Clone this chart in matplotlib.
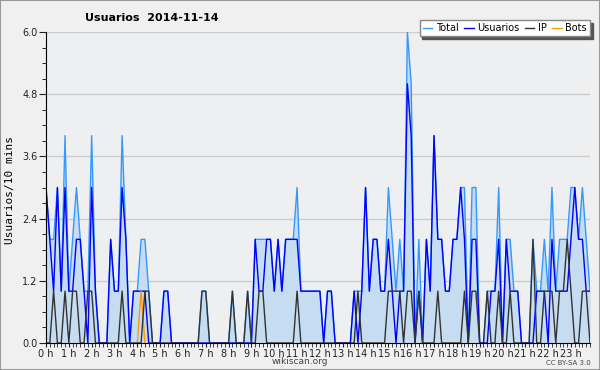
import matplotlib.pyplot as plt
import numpy as np
from matplotlib.patches import Rectangle
from matplotlib.ticker import MultipleLocator

# valores cada 10 minutos (144 puntos)
usuarios = [3, 2, 1, 3, 1, 3, 1, 1, 2, 2, 1, 0,
            3, 1, 0, 0, 0, 2, 1, 1, 3, 2, 0, 1,
            1, 1, 1, 0, 0, 0, 0, 1, 1, 0, 0, 0,
            0, 0, 0, 0, 0, 0, 0, 0, 0, 0, 0, 0,
            0, 0, 0, 0, 0, 0, 0, 2, 1, 1, 2, 2,
            1, 2, 1, 2, 2, 2, 2, 1, 1, 1, 1, 1,
            1, 0, 1, 1, 0, 0, 0, 0, 0, 1, 0, 1,
            3, 1, 2, 2, 1, 1, 2, 1, 0, 1, 1, 5,
            4, 0, 1, 0, 2, 1, 4, 2, 2, 1, 1, 2,
            2, 3, 2, 0, 2, 2, 0, 0, 0, 1, 1, 2,
            0, 2, 1, 1, 1, 0, 0, 0, 0, 1, 1, 1,
            0, 2, 1, 1, 1, 1, 2, 3, 2, 2, 1, 1]
ip = [0, 0, 1, 0, 0, 1, 0, 1, 1, 0, 0, 1,
      1, 0, 0, 0, 0, 0, 0, 0, 1, 0, 0, 0,
      0, 0, 1, 1, 0, 0, 0, 0, 0, 0, 0, 0,
      0, 0, 0, 0, 0, 1, 1, 0, 0, 0, 0, 0,
      0, 1, 0, 0, 0, 1, 0, 0, 1, 1, 0, 0,
      0, 0, 0, 0, 0, 0, 1, 0, 0, 0, 0, 0,
      0, 0, 0, 0, 0, 0, 0, 0, 0, 0, 1, 0,
      0, 0, 0, 0, 0, 0, 1, 1, 1, 1, 0, 1,
      1, 0, 1, 0, 0, 0, 0, 1, 0, 0, 0, 0,
      0, 0, 1, 0, 1, 1, 0, 0, 1, 0, 0, 1,
      0, 0, 1, 0, 0, 0, 0, 0, 2, 0, 0, 1,
      1, 1, 0, 1, 1, 2, 1, 0, 0, 1, 1, 0]
bots = [0] * 144
bots[25] = 1
total = [3, 2, 2, 3, 1, 4, 1, 2, 3, 2, 1, 1,
         4, 1, 0, 0, 0, 2, 1, 1, 4, 2, 0, 1,
         1, 2, 2, 1, 0, 0, 0, 1, 1, 0, 0, 0,
         0, 0, 0, 0, 0, 1, 1, 0, 0, 0, 0, 0,
         0, 1, 0, 0, 0, 1, 0, 2, 2, 2, 2, 2,
         1, 2, 1, 2, 2, 2, 3, 1, 1, 1, 1, 1,
         1, 0, 1, 1, 0, 0, 0, 0, 0, 1, 1, 1,
         3, 1, 2, 2, 1, 1, 3, 2, 1, 2, 1, 6,
         5, 0, 2, 0, 2, 1, 4, 2, 2, 1, 1, 2,
         2, 3, 3, 0, 3, 3, 0, 0, 1, 1, 1, 3,
         0, 2, 2, 1, 1, 0, 0, 0, 2, 1, 1, 2,
         1, 3, 1, 2, 2, 2, 3, 3, 2, 3, 2, 1]
hour_labels = ['%d h' % h for h in range(24)]

x = np.arange(len(total)) / 6.0

# tramos de Bots a cero ocultos (se confunden con el eje)
b = np.array(bots, dtype=float)
near = (b > 0) | (np.roll(b, 1) > 0) | (np.roll(b, -1) > 0)
bots_draw = np.ma.masked_where(~near, b)

fig = plt.figure(figsize=(6, 3.7), dpi=100, facecolor='#f0f0f0')
ax = fig.add_axes([46/600, 1-343/370, 544/600, 311/370])
ax.set_facecolor('#eeeff1')

ax.fill_between(x, total, 0, color='#c6dcf0', lw=0)
l_total, = ax.plot(x, total, color='#3399ff', lw=1.0)
l_usu, = ax.plot(x, usuarios, color='#0000ff', lw=1.0)
l_bots, = ax.plot(x, bots_draw, color='#ff9900', lw=1.0)
l_ip, = ax.plot(x, ip, color='#333333', lw=1.0)

ax.set_xlim(0, x[-1])
ax.set_ylim(0, 6)

ax.spines['right'].set_color('none')
ax.spines['top'].set_color('none')

ax.set_yticks([0, 1.2, 2.4, 3.6, 4.8, 6.0])
ax.set_yticklabels(['0.0', '1.2', '2.4', '3.6', '4.8', '6.0'])
ax.yaxis.set_minor_locator(MultipleLocator(0.3))
ax.set_xticks(range(24))
ax.set_xticklabels(hour_labels)
ax.xaxis.set_minor_locator(MultipleLocator(1/6))
ax.tick_params(axis='y', which='major', length=5, labelsize=7, pad=1, colors='#222')
ax.tick_params(axis='y', which='minor', length=3)
ax.tick_params(axis='x', which='both', length=3, labelsize=7, pad=1, colors='#222')
ax.grid(axis='y', color='#cccccc', lw=1)
ax.set_axisbelow(True)

leg = ax.legend([l_total, l_usu, l_ip, l_bots], ['Total', 'Usuarios', 'IP', 'Bots'],
                loc='upper right', ncol=4, fontsize=7, frameon=True, fancybox=False,
                edgecolor='#888888', framealpha=1, borderpad=0.3, borderaxespad=0,
                handlelength=1.0, handletextpad=0.4, columnspacing=0.5,
                bbox_to_anchor=(590/600, 1-20/370), bbox_transform=fig.transFigure,
                shadow={'color': '#555555', 'alpha': 1})

fig.text(85/600, 1-18/370, 'Usuarios  2014-11-14', fontsize=8, fontweight='bold', va='center')
fig.text(10/600, 1-190/370, 'Usuarios/10 mins', rotation=90, fontsize=8,
         family='DejaVu Sans Mono', va='center', ha='center')
fig.text(300/600, 1-362/370, 'wikiscan.org', fontsize=6.5, color='#444', ha='center', va='center')
fig.text(568/600, 1-363/370, 'CC BY-SA 3.0', fontsize=5, color='#444', ha='center', va='center')

fig.patches.append(Rectangle((0, 0), 1, 1, transform=fig.transFigure, fill=False,
                             edgecolor='#999999', lw=1.5))

fig.savefig('out.png', dpi=100, facecolor=fig.get_facecolor())
